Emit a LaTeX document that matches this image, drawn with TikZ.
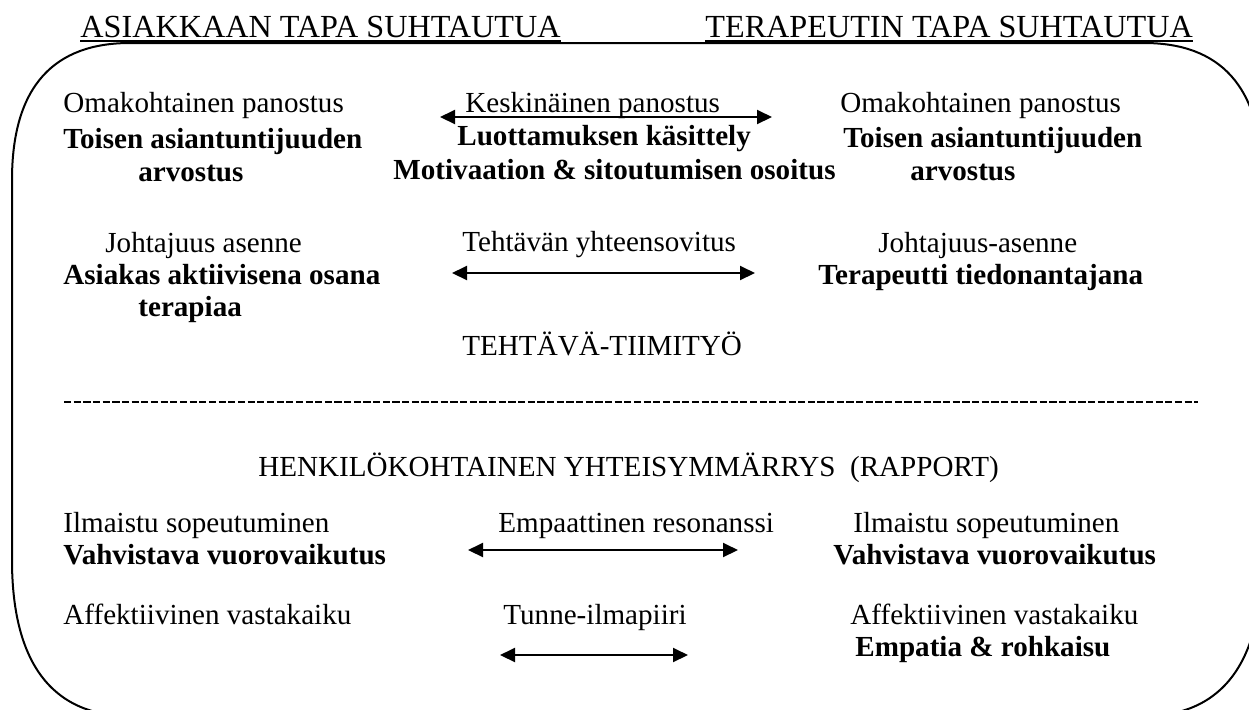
\documentclass[tikz,border=0pt]{standalone}
\usepackage{fontspec}
\setmainfont{Liberation Serif}
\usetikzlibrary{arrows.meta}
\newcommand{\bodysize}{\fontsize{14.55pt}{18pt}\selectfont}
\newcommand{\headsize}{\fontsize{16.1pt}{19pt}\selectfont}
\tikzset{
  txt/.style={anchor=base west, inner sep=0pt, font=\bodysize},
  btxt/.style={anchor=base west, inner sep=0pt, font=\bodysize\bfseries},
  head/.style={anchor=base west, inner sep=0pt, font=\headsize},
  frame/.style={line width=1pt},
  uline/.style={line width=1pt},
  dbl/.style={line width=1pt, {Triangle[length=7.5pt,width=7pt]}-{Triangle[length=7.5pt,width=7pt]}},
  sep/.style={line width=1pt, dash pattern=on 3.6pt off 1.23pt}
}
\begin{document}
\begin{tikzpicture}[x=0.5pt,y=-0.5pt]
\useasboundingbox (0,0) rectangle (1249,709);
\clip (0,0) rectangle (1249,709);

% outer rounded frame (right and bottom edges run past the page)
\draw[frame] (12,400) -- (12,180) .. controls (12,85) and (55,43) .. (130,43)
  -- (1144,43) .. controls (1219,43) and (1262,85) .. (1262,180)
  -- (1262,560) .. controls (1262,660) and (1224,716) .. (1144,716)
  -- (130,716) .. controls (50,716) and (12,660) .. (12,560) -- cycle;

% column headings
\node[head] (hl) at (80,37) {ASIAKKAAN TAPA SUHTAUTUA};
\node[head] (hr) at (705,37) {TERAPEUTIN TAPA SUHTAUTUA};
\draw[uline] ([yshift=-2pt]hl.base west) -- ([yshift=-2pt]hl.base east);
\draw[uline] ([yshift=-2pt]hr.base west) -- ([yshift=-2pt]hr.base east);

% task teamwork: first row
\node[txt]  (l1) at (63,112) {Omakohtainen panostus};
\node[btxt] (l2) at (63,148) {Toisen asiantuntijuuden};
\node[btxt] (l3) at (138,181) {arvostus};
\node[txt]  (m1) at (465,112) {Keskinäinen panostus};
\node[btxt] (m2) at (457,145) {Luottamuksen käsittely};
\node[btxt] (m3) at (393,179) {Motivaation \& sitoutumisen osoitus};
\node[txt]  (r1) at (840,112) {Omakohtainen panostus};
\node[btxt] (r2) at (843,147) {Toisen asiantuntijuuden};
\node[btxt] (r3) at (910,180) {arvostus};
\coordinate (a1l) at (440,117);
\coordinate (a1r) at (772,117);
\draw[dbl] (a1l) -- (a1r);

% task teamwork: second row
\node[txt]  (l4) at (105,252) {Johtajuus asenne};
\node[btxt] (l5) at (63,284) {Asiakas aktiivisena osana};
\node[btxt] (l6) at (138,316) {terapiaa};
\node[txt]  (m4) at (462,251) {Tehtävän yhteensovitus};
\node[txt]  (r4) at (878,252) {Johtajuus-asenne};
\node[btxt] (r5) at (818,284) {Terapeutti tiedonantajana};
\coordinate (a2l) at (452,273);
\coordinate (a2r) at (755,273);
\draw[dbl] (a2l) -- (a2r);
\node[txt]  (task) at (462,355) {TEHTÄVÄ-TIIMITYÖ};

% separator
\coordinate (sl) at (64,402);
\coordinate (sr) at (1198,402);
\draw[sep] (sl) -- (sr);

% personal rapport
\node[txt] (rap) at (258,476) {HENKILÖKOHTAINEN YHTEISYMMÄRRYS\ \ (RAPPORT)};
\node[txt]  (l7) at (63,532) {Ilmaistu sopeutuminen};
\node[btxt] (l8) at (63,564) {Vahvistava vuorovaikutus};
\node[txt]  (m7) at (498,532) {Empaattinen resonanssi};
\node[txt]  (r7) at (853,532) {Ilmaistu sopeutuminen};
\node[btxt] (r8) at (833,564) {Vahvistava vuorovaikutus};
\coordinate (a3l) at (468,550);
\coordinate (a3r) at (738,550);
\draw[dbl] (a3l) -- (a3r);

\node[txt]  (l9) at (63,624) {Affektiivinen vastakaiku};
\node[txt]  (m9) at (503,624) {Tunne-ilmapiiri};
\node[txt]  (r9) at (850,624) {Affektiivinen vastakaiku};
\node[btxt] (r10) at (855,656) {Empatia \& rohkaisu};
\coordinate (a4l) at (500,655);
\coordinate (a4r) at (688,655);
\draw[dbl] (a4l) -- (a4r);
\end{tikzpicture}
\end{document}
